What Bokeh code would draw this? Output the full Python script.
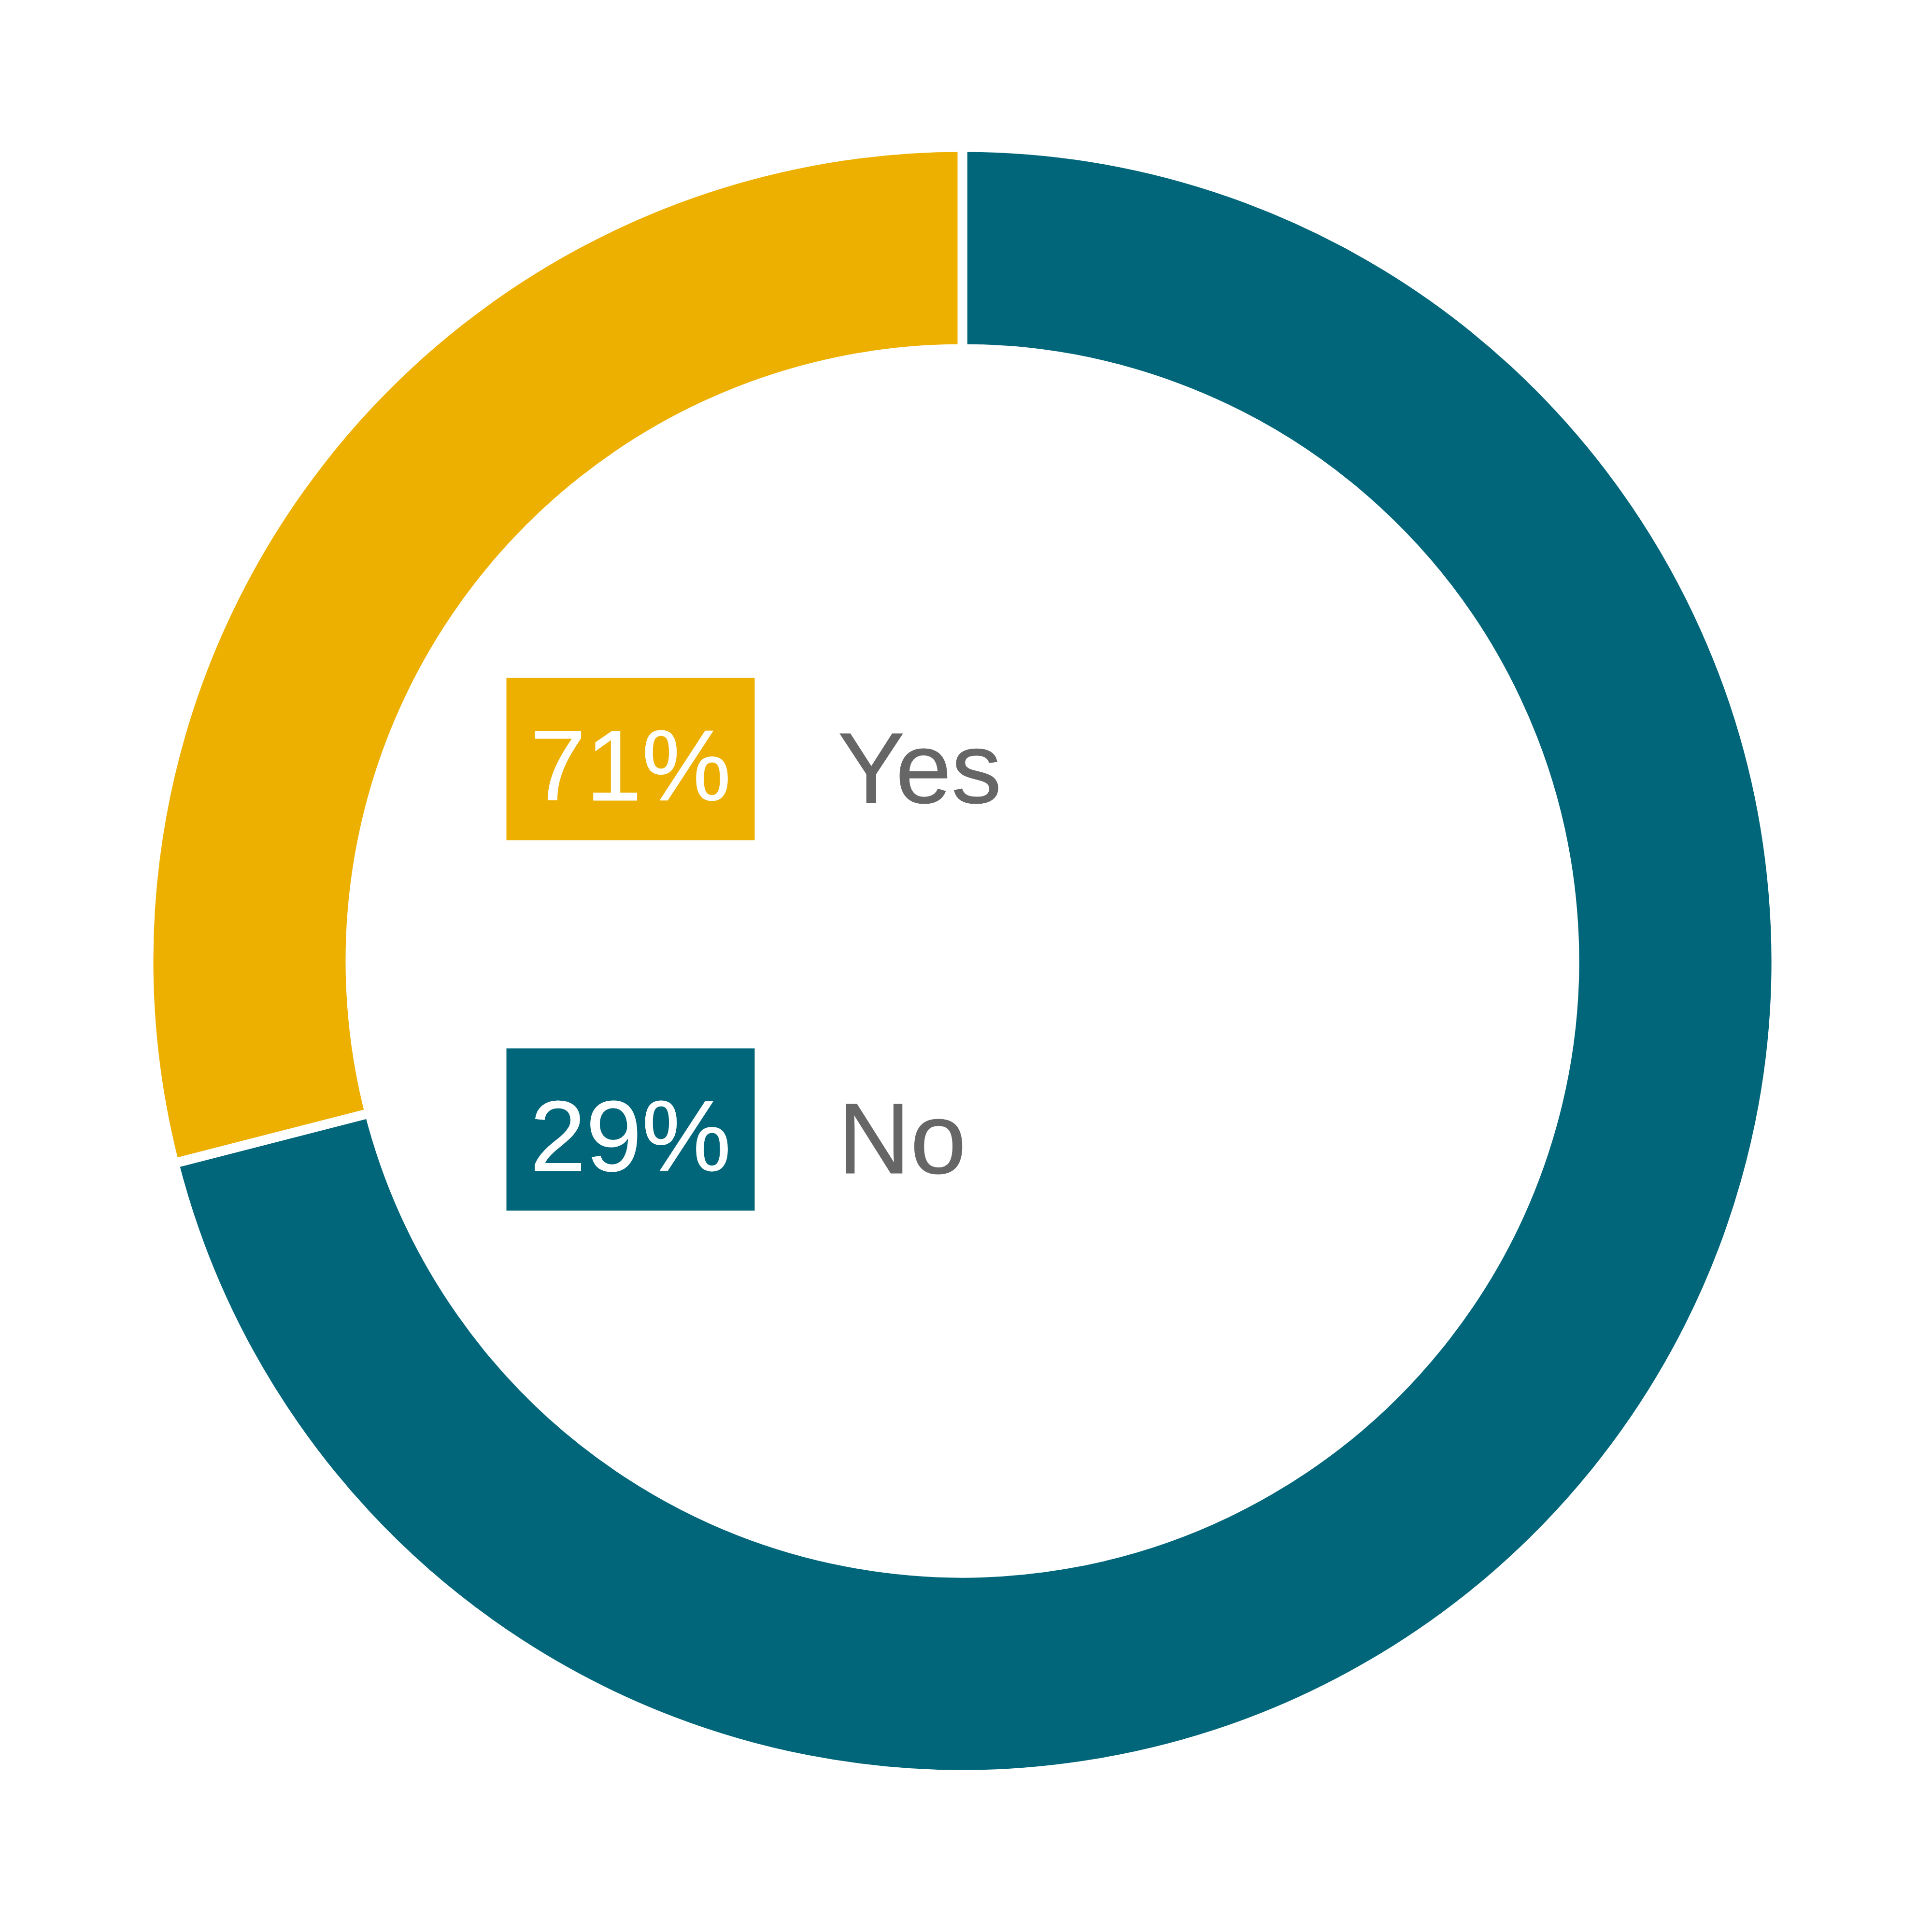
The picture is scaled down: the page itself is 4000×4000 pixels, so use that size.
import math
from bokeh.plotting import figure
from bokeh.models import Range1d, ColumnDataSource
from bokeh.core.properties import value
from bokeh.embed import file_html
from bokeh.resources import INLINE

# ---- data ----
categories = ["Yes", "No"]
pct_values = [71, 29]
TEAL = "#02667A"
YELLOW = "#EDB000"
label_colors = [YELLOW, TEAL]
# ring slices, clockwise from 12 o'clock, as drawn in the source chart
ring_values = [71, 29]
ring_colors = [TEAL, YELLOW]

# ---- layout (screen pixels) ----
W = H = 3984
CX, CY = 2000, 1997          # ring centre (screen coords)
R_OUT, R_IN = 1675, 1277
GAP = 20
BOX_L, BOX_R = 1056, 1570
BOX_H = 336
ROW_TOP = [1411, 2178]
NAME_X = 1742
FONT = "Liberation Sans"
FS = "208px"
SHIFT = 60   # renderer baseline correction

p = figure(width=W, height=H, output_backend="svg", toolbar_location=None,
           x_range=Range1d(8, 8 + W), y_range=Range1d(-(8 + H), -8),
           min_border=0, outline_line_color=None)
p.axis.visible = False
p.grid.visible = False
p.background_fill_color = "white"
p.border_fill_color = "white"

# ring
total = sum(ring_values)
starts, ends = [], []
a = 90.0
for v in ring_values:
    starts.append(math.radians(a))
    a -= v / total * 360.0
    ends.append(math.radians(a))
ring = ColumnDataSource(dict(start=starts, end=ends, color=ring_colors))
p.annular_wedge(x=CX, y=-CY, inner_radius=R_IN - GAP / 2, outer_radius=R_OUT + GAP / 2,
                start_angle="start", end_angle="end", direction="clock",
                fill_color="color", line_color="white", line_width=GAP, source=ring)

# legend boxes
tops = [-t for t in ROW_TOP]
bottoms = [-(t + BOX_H) for t in ROW_TOP]
src = ColumnDataSource(dict(
    top=tops, bottom=bottoms, color=label_colors,
    pct=[f"{v}%" for v in pct_values], name=categories,
    ybase=[-(t + BOX_H / 2 + 73 - SHIFT) for t in ROW_TOP],
    nbase=[-(t + BOX_H / 2 + 78 - SHIFT) for t in ROW_TOP],
))
p.quad(left=BOX_L, right=BOX_R, top="top", bottom="bottom", fill_color="color",
       line_color=None, source=src)
p.text(x=(BOX_L + BOX_R) / 2, y="ybase", text="pct", text_color="white",
       text_outline_color="white",
       text_font=value(FONT), text_font_size=value(FS), text_align="center",
       text_baseline="alphabetic", source=src)
p.text(x=NAME_X, y="nbase", text="name", text_color="#666666",
       text_outline_color="#666666",
       text_font=value(FONT), text_font_size=value(FS), text_align="left",
       text_baseline="alphabetic", source=src)

open("out.html", "w").write(file_html(p, INLINE))
